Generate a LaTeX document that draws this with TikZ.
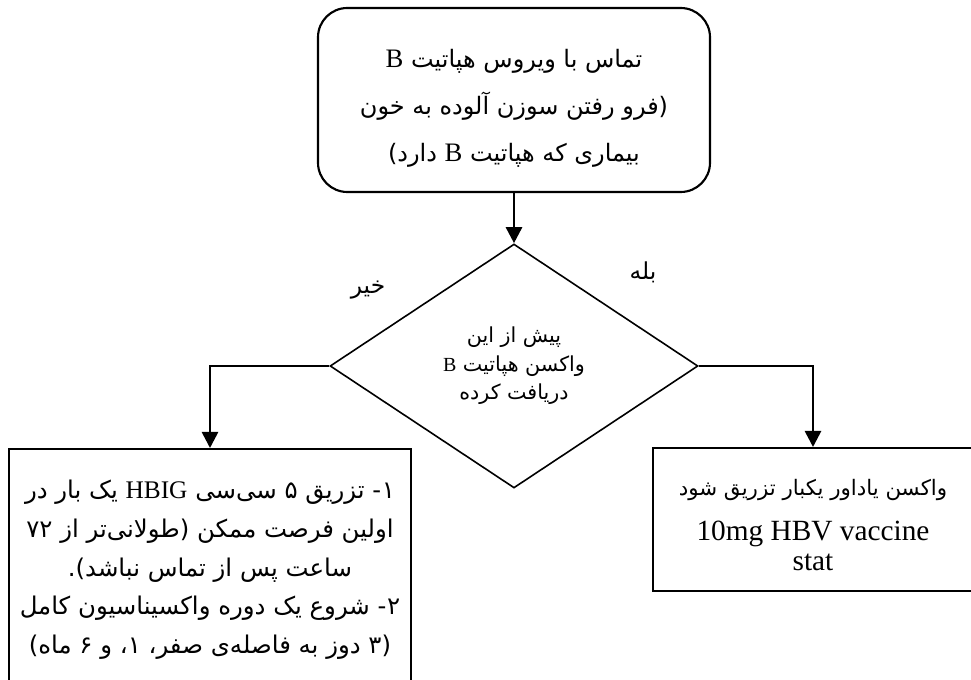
\documentclass[tikz,border=0pt]{standalone}
\usepackage{fontspec}
\setmainfont{Liberation Serif}
\newfontfamily\fa[Script=Arabic]{DejaVu Sans}
\TeXXeTstate=1
\usetikzlibrary{shapes.geometric,arrows.meta,positioning,calc}

% one right-to-left line
\newcommand{\rl}[1]{\beginR\fa #1\endR}
\newcommand{\lt}[2][19]{{\rmfamily\fontsize{#1}{0}\selectfont #2}}

\tikzset{
  startbox/.style={draw, line width=1.6pt, rounded corners=22pt, minimum width=294pt, minimum height=138pt, align=center, font=\fontsize{18}{35.5}\selectfont},
  decision/.style={draw, diamond, line width=1.2pt, inner sep=0pt, minimum width=276pt, minimum height=183pt, align=center, font=\fontsize{15.5}{21.4}\selectfont},
  actbox/.style={draw, rectangle, line width=1.5pt, inner sep=0pt, align=center},
  answer/.style={font=\fontsize{17.5}{20}\selectfont},
  flow/.style={line width=2pt, -{Triangle[length=12pt,width=12pt]}}
}

\begin{document}
\begin{tikzpicture}[x=0.75pt, y=-0.75pt]
        \useasboundingbox (0,0) rectangle (971,680);

        \node[startbox] (start) at (514,100) {\rule{0pt}{26pt}\rl{تماس با ویروس هپاتیت \lt[20]{B}}\\ \rl{(فرو رفتن سوزن آلوده به خون}\\ \rl{بیماری که هپاتیت \lt[20]{B} دارد)}};

        \node[decision] (vaccinated) at (514,366) {\rl{پیش از این}\\ \rl{واکسن هپاتیت \lt[15]{B}}\\ \rl{دریافت کرده}};

        \node[actbox, anchor=north, minimum width=301.5pt, minimum height=181.5pt, font=\fontsize{18.3}{29}\selectfont] (nobox) at (210,448) {\rl{۱\kern0.5pt- تزریق ۵ سی^^^^200cسی \lt{HBIG} یک بار در}\\ \rl{اولین فرصت ممکن (طولانی^^^^200cتر از ۷۲}\\ \rl{ساعت پس از تماس نباشد).}\\ \rl{۲\kern0.5pt- شروع یک دوره واکسیناسیون کامل}\\ \rl{(۳ دوز به فاصله^^^^200cی صفر، ۱، و ۶ ماه)}};

        \node[actbox, anchor=north, minimum width=240pt, minimum height=107.25pt, font=\fontsize{16}{22}\selectfont] (yesbox) at (813,447) {\rule{0pt}{20pt}\rl{واکسن یاداور یکبار تزریق شود}\\[12pt] \lt[22]{10mg HBV vaccine}\\ \lt[22]{stat}};

        \node[answer] (no) at (368,290) {\rl{خیر}};
        \node[answer] (yes) at (643,272) {\rl{بله}};

        \draw[flow] (start) -- (vaccinated);
        \draw[flow] (vaccinated.west) -| (nobox.north);
        \draw[flow] (vaccinated.east) -| (yesbox.north);
    \end{tikzpicture}
\end{document}
